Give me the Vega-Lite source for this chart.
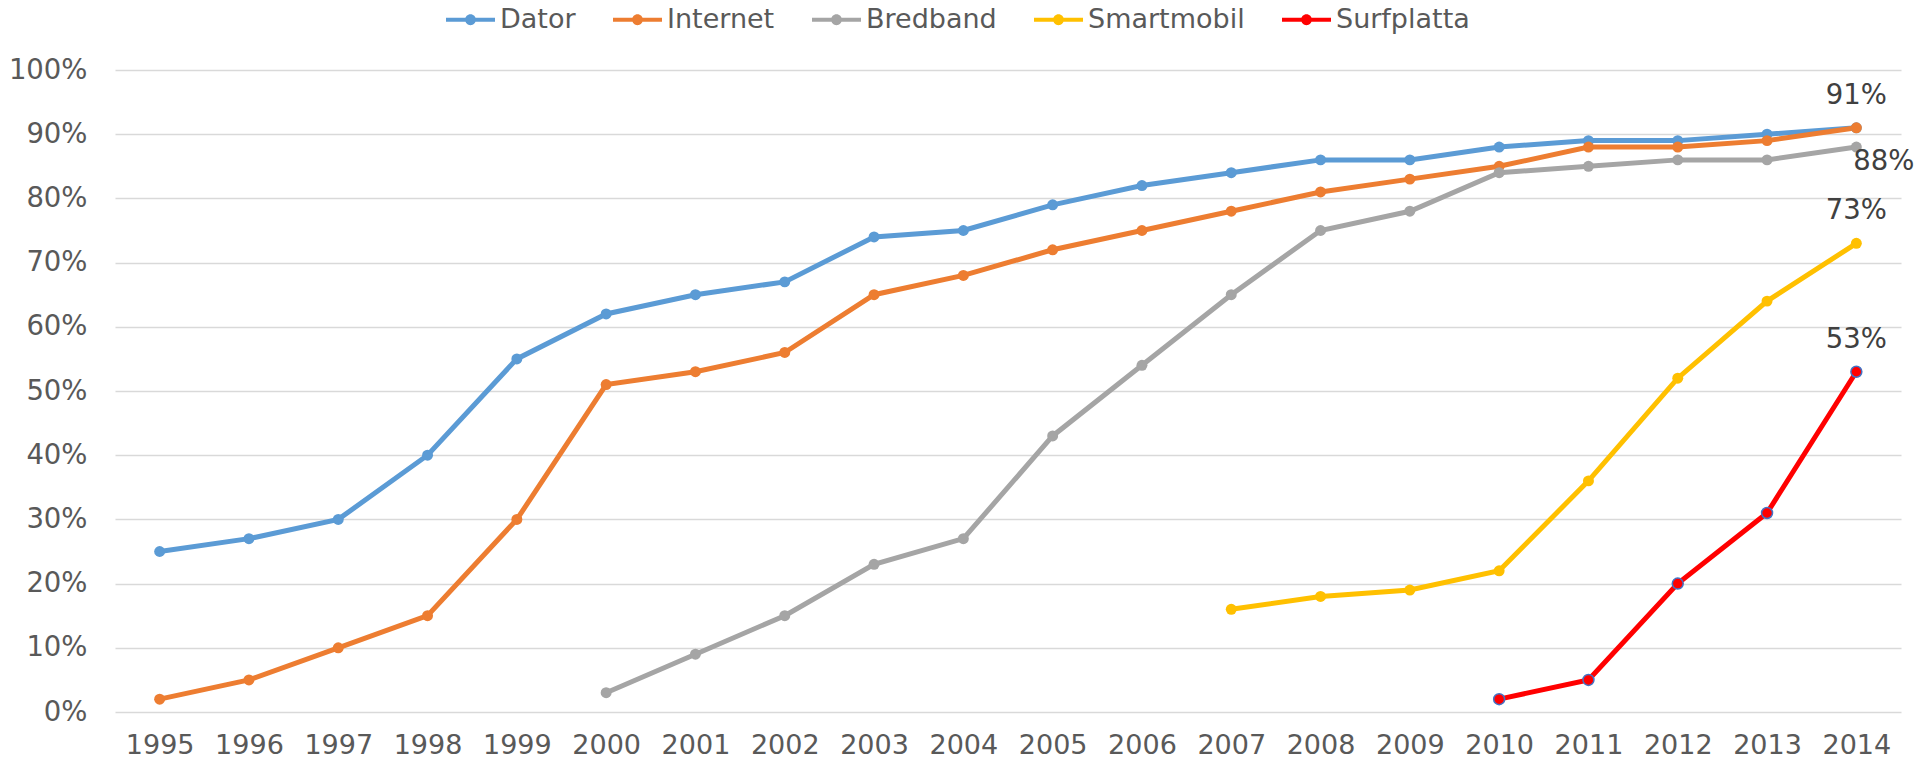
{
  "$schema": "https://vega.github.io/schema/vega-lite/v6.json",
  "width": 1786,
  "height": 642,
  "autosize": {"type": "none"},
  "padding": {"left": 115, "top": 70, "right": 14, "bottom": 54},
  "background": "white",
  "config": {"view": {"stroke": null}, "font": "DejaVu Sans"},
  "data": {
    "values": [
      {"series": "Dator", "year": 1995, "value": 0.25},
      {"series": "Dator", "year": 1996, "value": 0.27},
      {"series": "Dator", "year": 1997, "value": 0.30},
      {"series": "Dator", "year": 1998, "value": 0.40},
      {"series": "Dator", "year": 1999, "value": 0.55},
      {"series": "Dator", "year": 2000, "value": 0.62},
      {"series": "Dator", "year": 2001, "value": 0.65},
      {"series": "Dator", "year": 2002, "value": 0.67},
      {"series": "Dator", "year": 2003, "value": 0.74},
      {"series": "Dator", "year": 2004, "value": 0.75},
      {"series": "Dator", "year": 2005, "value": 0.79},
      {"series": "Dator", "year": 2006, "value": 0.82},
      {"series": "Dator", "year": 2007, "value": 0.84},
      {"series": "Dator", "year": 2008, "value": 0.86},
      {"series": "Dator", "year": 2009, "value": 0.86},
      {"series": "Dator", "year": 2010, "value": 0.88},
      {"series": "Dator", "year": 2011, "value": 0.89},
      {"series": "Dator", "year": 2012, "value": 0.89},
      {"series": "Dator", "year": 2013, "value": 0.90},
      {"series": "Dator", "year": 2014, "value": 0.91},
      {"series": "Internet", "year": 1995, "value": 0.02},
      {"series": "Internet", "year": 1996, "value": 0.05},
      {"series": "Internet", "year": 1997, "value": 0.10},
      {"series": "Internet", "year": 1998, "value": 0.15},
      {"series": "Internet", "year": 1999, "value": 0.30},
      {"series": "Internet", "year": 2000, "value": 0.51},
      {"series": "Internet", "year": 2001, "value": 0.53},
      {"series": "Internet", "year": 2002, "value": 0.56},
      {"series": "Internet", "year": 2003, "value": 0.65},
      {"series": "Internet", "year": 2004, "value": 0.68},
      {"series": "Internet", "year": 2005, "value": 0.72},
      {"series": "Internet", "year": 2006, "value": 0.75},
      {"series": "Internet", "year": 2007, "value": 0.78},
      {"series": "Internet", "year": 2008, "value": 0.81},
      {"series": "Internet", "year": 2009, "value": 0.83},
      {"series": "Internet", "year": 2010, "value": 0.85},
      {"series": "Internet", "year": 2011, "value": 0.88},
      {"series": "Internet", "year": 2012, "value": 0.88},
      {"series": "Internet", "year": 2013, "value": 0.89},
      {"series": "Internet", "year": 2014, "value": 0.91},
      {"series": "Bredband", "year": 2000, "value": 0.03},
      {"series": "Bredband", "year": 2001, "value": 0.09},
      {"series": "Bredband", "year": 2002, "value": 0.15},
      {"series": "Bredband", "year": 2003, "value": 0.23},
      {"series": "Bredband", "year": 2004, "value": 0.27},
      {"series": "Bredband", "year": 2005, "value": 0.43},
      {"series": "Bredband", "year": 2006, "value": 0.54},
      {"series": "Bredband", "year": 2007, "value": 0.65},
      {"series": "Bredband", "year": 2008, "value": 0.75},
      {"series": "Bredband", "year": 2009, "value": 0.78},
      {"series": "Bredband", "year": 2010, "value": 0.84},
      {"series": "Bredband", "year": 2011, "value": 0.85},
      {"series": "Bredband", "year": 2012, "value": 0.86},
      {"series": "Bredband", "year": 2013, "value": 0.86},
      {"series": "Bredband", "year": 2014, "value": 0.88},
      {"series": "Smartmobil", "year": 2007, "value": 0.16},
      {"series": "Smartmobil", "year": 2008, "value": 0.18},
      {"series": "Smartmobil", "year": 2009, "value": 0.19},
      {"series": "Smartmobil", "year": 2010, "value": 0.22},
      {"series": "Smartmobil", "year": 2011, "value": 0.36},
      {"series": "Smartmobil", "year": 2012, "value": 0.52},
      {"series": "Smartmobil", "year": 2013, "value": 0.64},
      {"series": "Smartmobil", "year": 2014, "value": 0.73},
      {"series": "Surfplatta", "year": 2010, "value": 0.02},
      {"series": "Surfplatta", "year": 2011, "value": 0.05},
      {"series": "Surfplatta", "year": 2012, "value": 0.20},
      {"series": "Surfplatta", "year": 2013, "value": 0.31},
      {"series": "Surfplatta", "year": 2014, "value": 0.53}
    ]
  },
  "encoding": {
    "x": {
      "field": "year",
      "type": "ordinal",
      "scale": {"padding": 0.5},
      "axis": {
        "title": null,
        "labelAngle": 0,
        "domain": false,
        "ticks": false,
        "grid": false,
        "labelFontSize": 27,
        "labelColor": "#595959",
        "labelPadding": 20
      }
    },
    "y": {
      "field": "value",
      "type": "quantitative",
      "scale": {"domain": [0, 1]},
      "axis": {
        "title": null,
        "format": ".0%",
        "values": [0, 0.1, 0.2, 0.3, 0.4, 0.5, 0.6, 0.7, 0.8, 0.9, 1],
        "domain": false,
        "ticks": false,
        "labelFontSize": 27.5,
        "labelColor": "#595959",
        "labelPadding": 28,
        "gridColor": "#D9D9D9",
        "gridWidth": 1.5
      }
    },
    "color": {
      "field": "series",
      "type": "nominal",
      "scale": {
        "domain": ["Dator", "Internet", "Bredband", "Smartmobil", "Surfplatta"],
        "range": ["#5B9BD5", "#ED7D31", "#A5A5A5", "#FFC000", "#FF0000"]
      },
      "legend": {
        "orient": "none",
        "legendX": 331,
        "legendY": -75,
        "direction": "horizontal",
        "title": null,
        "symbolType": "M-1,-0.085H1V0.085H-1Z M0.22,0A0.22,0.22,0,1,1,-0.22,0A0.22,0.22,0,1,1,0.22,0Z",
        "symbolSize": 2401,
        "labelFontSize": 27,
        "labelColor": "#595959",
        "labelOffset": 5,
        "columnPadding": 37,
        "encode": {
          "symbols": {
            "update": {
              "fill": {"scale": "color", "field": "value"},
              "stroke": {"value": "transparent"},
              "strokeWidth": {"value": 0},
              "opacity": {"value": 1}
            }
          }
        }
      }
    }
  },
  "layer": [
    {"mark": {"type": "line", "strokeWidth": 5}},
    {
      "mark": {"type": "point", "filled": true, "size": 120, "opacity": 1, "strokeWidth": 1.5},
      "encoding": {
        "stroke": {
          "condition": {"test": "datum.series === 'Surfplatta'", "value": "#4472C4"},
          "value": "transparent"
        }
      }
    },
    {
      "transform": [{"filter": "datum.year == 2014 && (datum.series == 'Internet' || datum.series == 'Smartmobil' || datum.series == 'Surfplatta')"}],
      "mark": {"type": "text", "dy": -32, "fontSize": 27.5, "baseline": "middle", "align": "center"},
      "encoding": {
        "text": {"field": "value", "type": "quantitative", "format": ".0%"},
        "color": {"value": "#404040"}
      }
    },
    {
      "transform": [{"filter": "datum.year == 2014 && datum.series == 'Bredband'"}],
      "mark": {"type": "text", "dy": 15, "dx": -3, "fontSize": 27.5, "baseline": "middle", "align": "left"},
      "encoding": {
        "text": {"field": "value", "type": "quantitative", "format": ".0%"},
        "color": {"value": "#404040"}
      }
    }
  ]
}
